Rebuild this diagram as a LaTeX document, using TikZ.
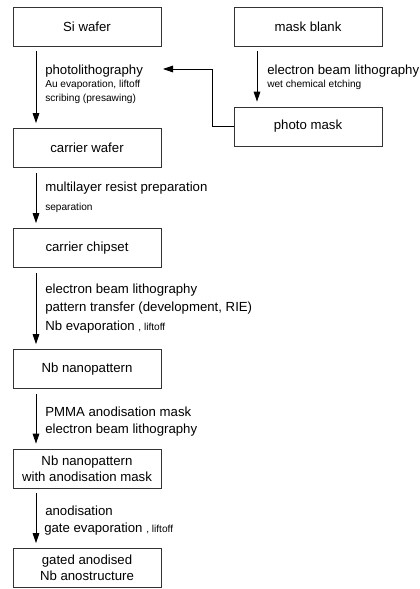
\documentclass[tikz,border=0pt]{standalone}
\usepackage{fontspec}
\setmainfont{Liberation Sans}
\usetikzlibrary{arrows.meta}

\begin{document}
\begin{tikzpicture}[x=0.75pt,y=-0.75pt,
  stepbox/.style={draw=black!80, line width=0.6pt, minimum width=111pt, minimum height=29.25pt,
    inner sep=0pt, align=center, font=\fontsize{9.9}{12}\selectfont},
  biglabel/.style={anchor=base west, inner sep=0pt, font=\fontsize{9.9}{12}\selectfont},
  smalllabel/.style={anchor=base west, inner sep=0pt, font=\fontsize{7.6}{9}\selectfont},
  flow/.style={draw=black, line width=0.6pt, -{Triangle[length=7.5pt,width=5pt]},
    shorten <=3.75pt, shorten >=3.75pt}]
\useasboundingbox (0,0) rectangle (419,589);

% Process steps
\node[stepbox] (si) at (87,26.5) {Si wafer};
\node[stepbox] (mb) at (308,26.5) {mask blank};
\node[stepbox] (pm) at (308,126.5) {photo mask};
\node[stepbox] (cw) at (87,148) {carrier wafer};
\node[stepbox] (cc) at (87,248) {carrier chipset};
\node[stepbox] (nb) at (87,369) {Nb nanopattern};
\node[stepbox] (nbm) at (87,468.5) {Nb nanopattern\\with anodisation mask};
\node[stepbox] (gan) at (87,568) {gated anodised\\Nb anostructure};

% Arrow columns
\coordinate (lcol) at (36,0);
\coordinate (rcol) at (257,0);

% Main flow
\draw[flow] (si.south -| lcol) -- (cw.north -| lcol);
\draw[flow] (cw.south -| lcol) -- (cc.north -| lcol);
\draw[flow] (cc.south -| lcol) -- (nb.north -| lcol);
\draw[flow] (nb.south -| lcol) -- (nbm.north -| lcol);
\draw[flow] (nbm.south -| lcol) -- (gan.north -| lcol);

% Mask branch
\draw[flow] (mb.south -| rcol) -- (pm.north -| rcol);
\coordinate (bend) at (212,69);
\coordinate (fbtip) at (163,69);
\draw[flow, shorten <=0pt, shorten >=0pt] (pm.west) -| (bend) -- (fbtip);

% Step descriptions
\node[biglabel] (l1a) at (45,74) {photolithography};
\node[smalllabel] (l1b) at (45,87.5) {Au evaporation, liftoff};
\node[smalllabel] (l1c) at (45,101.5) {scribing (presawing)};
\node[biglabel] (r1a) at (267,74) {electron beam lithography};
\node[smalllabel] (r1b) at (267,87.5) {wet chemical etching};
\node[biglabel] (l2a) at (45,191) {multilayer resist preparation};
\node[smalllabel] (l2b) at (45,210) {separation};
\node[biglabel] (l3a) at (45,293) {electron beam lithography};
\node[biglabel] (l3b) at (45,311.5) {pattern transfer (development, RIE)};
\node[biglabel] (l3c) at (45,330) {Nb evaporation {\fontsize{7.6}{9}\selectfont, liftoff}};
\node[biglabel] (l4a) at (45,416) {PMMA anodisation mask};
\node[biglabel] (l4b) at (45,433) {electron beam lithography};
\node[biglabel] (l5a) at (45,515) {anodisation};
\node[biglabel] (l5b) at (44,532) {gate evaporation {\fontsize{7.6}{9}\selectfont, liftoff}};
\end{tikzpicture}
\end{document}
